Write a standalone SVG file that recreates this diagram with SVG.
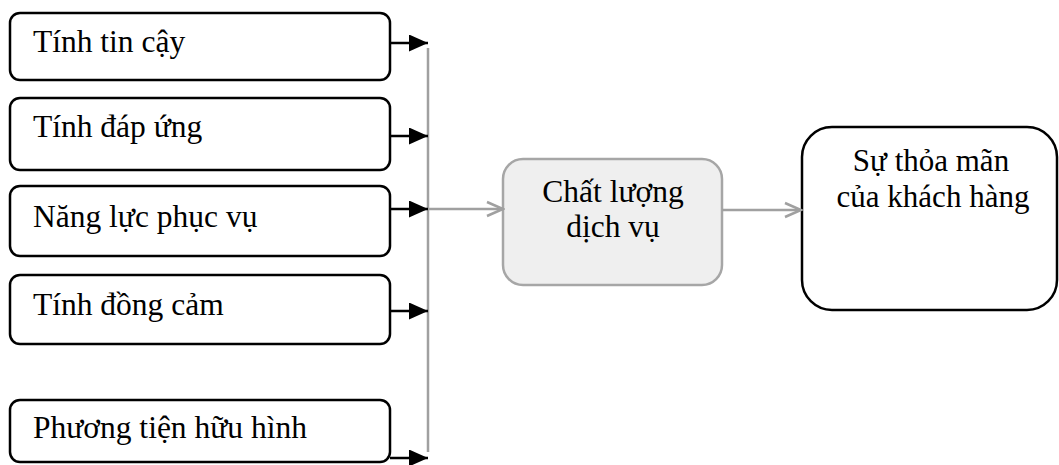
<svg xmlns="http://www.w3.org/2000/svg" width="1059" height="465" viewBox="0 0 1059 465">
  <style>
    .box { fill: #ffffff; stroke: #000000; stroke-width: 2.5; }
    .core { fill: #efefef; stroke: #a6a6a6; stroke-width: 2.5; }
    .lbl { font-family: "Liberation Serif", "Times New Roman", serif; font-size: 31.5px; fill: #000000; }
    .sm { font-size: 31px; }
    .mid { text-anchor: middle; }
    .feed { stroke: #000000; stroke-width: 2.5; fill: none; }
    .trunk { stroke: #a0a0a0; stroke-width: 2.5; fill: none; }
  </style>
  <defs>
    <marker id="solid" markerWidth="19" markerHeight="17" refX="19" refY="8.5" orient="auto" markerUnits="userSpaceOnUse" viewBox="0 0 19 17">
      <path d="M0,0 L19,8.5 L0,17 Z" fill="#000000"/>
    </marker>
    <marker id="open" markerWidth="20" markerHeight="20" refX="18" refY="10" orient="auto" markerUnits="userSpaceOnUse" viewBox="0 0 20 20">
      <path d="M2,3 L18,10 L2,17" fill="none" stroke="#a0a0a0" stroke-width="2.5"/>
    </marker>
  </defs>

  <g id="f1">
    <rect class="box" x="10" y="13" width="380" height="67" rx="10"/>
    <text class="lbl" x="33" y="52">Tính tin cậy</text>
  </g>
  <g id="f2">
    <rect class="box" x="10" y="98" width="380" height="72" rx="10"/>
    <text class="lbl" x="33" y="137">Tính đáp ứng</text>
  </g>
  <g id="f3">
    <rect class="box" x="10" y="186" width="380" height="70" rx="10"/>
    <text class="lbl" x="33" y="227">Năng lực phục vụ</text>
  </g>
  <g id="f4">
    <rect class="box" x="10" y="275" width="380" height="69" rx="10"/>
    <text class="lbl" x="33" y="315">Tính đồng cảm</text>
  </g>
  <g id="f5">
    <rect class="box" x="10" y="400" width="380" height="62" rx="10"/>
    <text class="lbl" x="33" y="438">Phương tiện hữu hình</text>
  </g>

  <g id="quality">
    <rect class="core" x="503" y="159" width="219" height="126" rx="20"/>
    <text class="lbl mid" x="613" y="202">Chất lượng</text>
    <text class="lbl mid" x="613" y="237">dịch vụ</text>
  </g>

  <g id="satisfaction">
    <rect class="box" x="802" y="127" width="255" height="183" rx="30"/>
    <text class="lbl sm mid" x="931" y="171">Sự thỏa mãn</text>
    <text class="lbl sm mid" x="933" y="207">của khách hàng</text>
  </g>

  <g id="connectors">
    <line class="trunk" x1="428" y1="48" x2="428" y2="452"/>
    <line class="feed" x1="390" y1="43" x2="428" y2="43" marker-end="url(#solid)"/>
    <line class="feed" x1="390" y1="136" x2="428" y2="136" marker-end="url(#solid)"/>
    <line class="feed" x1="390" y1="209" x2="428" y2="209" marker-end="url(#solid)"/>
    <line class="feed" x1="390" y1="311" x2="428" y2="311" marker-end="url(#solid)"/>
    <line class="feed" x1="390" y1="458" x2="428" y2="458" marker-end="url(#solid)"/>
    <line class="trunk" x1="428" y1="209" x2="503" y2="209" marker-end="url(#open)"/>
    <line class="trunk" x1="722" y1="210" x2="801" y2="210" marker-end="url(#open)"/>
  </g>
</svg>
